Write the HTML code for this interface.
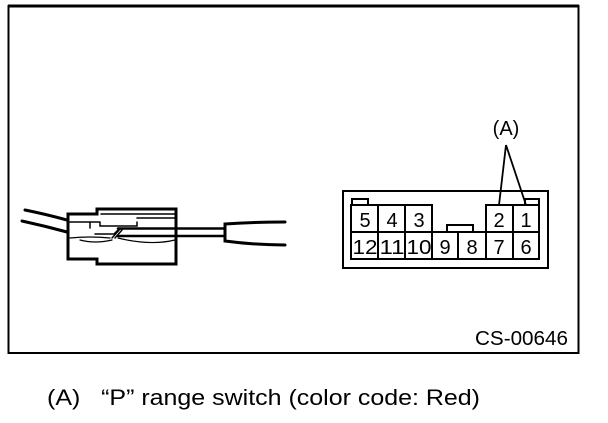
<!DOCTYPE html>
<html><head><style>
body{margin:0;background:#fff;width:608px;height:418px;overflow:hidden;font-family:"Liberation Sans",sans-serif}
</style></head><body>
<svg width="608" height="418" viewBox="0 0 608 418" xmlns="http://www.w3.org/2000/svg" font-family="Liberation Sans, sans-serif">
<path d="M8.5 353 V6 H578.5 V353 Z" fill="none" stroke="#000" stroke-width="2"/>
<line x1="8" y1="6" x2="579" y2="6" stroke="#000" stroke-width="3"/>
<g fill="none" stroke="#000" stroke-linecap="round">
<path d="M25 210 Q45 214 67 220" stroke-width="3"/>
<path d="M22 221 Q45 226 67 232" stroke-width="3"/>
<path d="M68 214 H97 V209 H176 V264 H97 V259 H68 Z" stroke-width="3"/>
<path d="M70 222 H100 M90 222 V228 M100 222 V226 H137 V222 M137 218 H175 M101 214 H175" stroke-width="1.5"/>
<path d="M70 238 Q90 236 110 238 M80 240 Q95 244 112 240 M118 238 Q150 246 175 240" stroke-width="1.2"/>
<path d="M95 234 H114 L118 230" stroke-width="1.5"/>
<path d="M112 238 L120 229 M115 238 L122 230" stroke-width="1.5"/>
<path d="M118 228.5 H225 M118 236 H225" stroke-width="2.5"/>
<path d="M285 222 Q255 222 225 224 V241 Q255 245 285 245" stroke-width="3"/>
</g>
<g fill="none" stroke="#000" stroke-width="2">
<rect x="343" y="191" width="205" height="77"/>
<path d="M352 205 V199 H368 V205 M525 205 V199 H539 V205"/>
<path d="M351 205 H432 V259 H351 Z M378 205 V259 M405 205 V259 M351 232 H432"/>
<path d="M432 232 H486 V259 H432 M458 232 V259 M447 232 V225 H473 V232"/>
<path d="M486 205 H539 V259 H486 Z M513 205 V259 M486 232 H539"/>
<path d="M506 145 L499 205 M506 145 L526 205" stroke-width="1.8"/>
</g>
<g font-size="20" text-anchor="middle" fill="#000">
<text x="365" y="227">5</text><text x="392" y="227">4</text><text x="419" y="227">3</text>
<text x="499" y="227">2</text><text x="526" y="227">1</text>
<text x="365" y="254" textLength="25" lengthAdjust="spacingAndGlyphs">12</text><text x="392" y="254" textLength="25" lengthAdjust="spacingAndGlyphs">11</text><text x="419" y="254" textLength="25" lengthAdjust="spacingAndGlyphs">10</text>
<text x="445" y="254">9</text><text x="472" y="254">8</text><text x="499" y="254">7</text><text x="526" y="254">6</text>
<text x="506" y="135">(A)</text>
</g>
<text x="475" y="345" font-size="20" textLength="93" lengthAdjust="spacingAndGlyphs">CS-00646</text>
<text x="47" y="405" font-size="22" xml:space="preserve" textLength="433" lengthAdjust="spacingAndGlyphs">(A)   “P” range switch (color code: Red)</text>
</svg>
</body></html>
